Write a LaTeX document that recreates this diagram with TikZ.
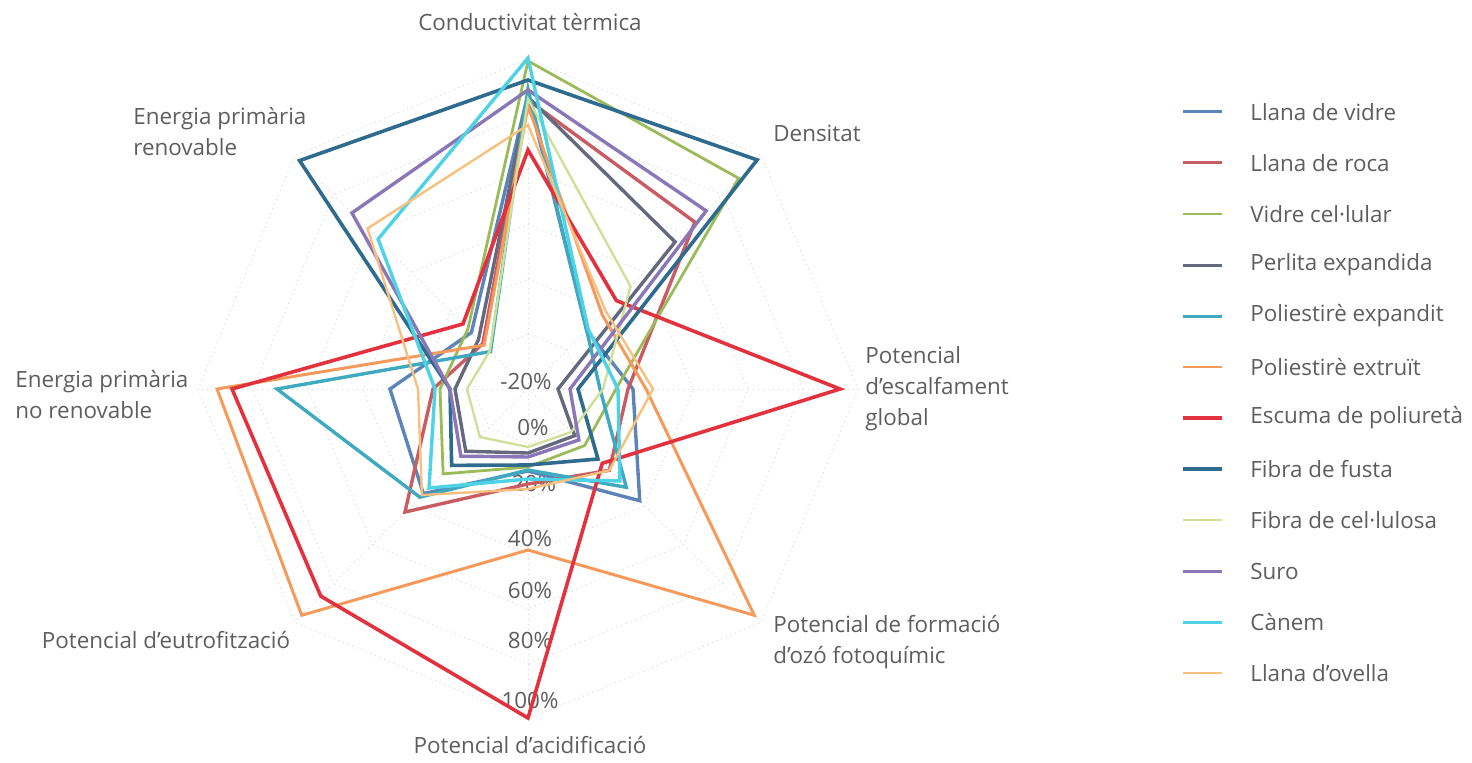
\documentclass[tikz,border=0pt]{standalone}
\usepackage{fontspec}
\setmainfont{Open Sans}
\definecolor{labelgray}{HTML}{5E5E5E}
\definecolor{gridgray}{HTML}{D6D6D6}
\definecolor{cVidre}{HTML}{5B84B8}
\definecolor{cRoca}{HTML}{C95B63}
\definecolor{cCelular}{HTML}{9BBB59}
\definecolor{cPerlita}{HTML}{65697E}
\definecolor{cEPS}{HTML}{3FA9C0}
\definecolor{cXPS}{HTML}{F59A5B}
\definecolor{cPUR}{HTML}{E3323E}
\definecolor{cFusta}{HTML}{2F6B8E}
\definecolor{cCelulosa}{HTML}{CFE09A}
\definecolor{cSuro}{HTML}{8977B8}
\definecolor{cCanem}{HTML}{4DD2E6}
\definecolor{cOvella}{HTML}{F8C07F}

% one closed polygon through the eight axes (radii in px, clockwise from the top axis)
\newcommand\plotseries[3]{%
  \foreach \r [count=\k from 0] in {#3}{%
    \pgfmathsetmacro\ang{90-45*\k}%
    \coordinate (s\k) at ({528+\r*cos(\ang)},{373+\r*sin(\ang)});%
  }%
  \draw[serie,draw=#1,line width=#2] (s0)--(s1)--(s2)--(s3)--(s4)--(s5)--(s6)--(s7)--cycle;%
}

\begin{document}
\begin{tikzpicture}[x=0.5pt,y=0.5pt,
  lbl/.style={text=labelgray,font=\fontsize{11.2}{15.5}\selectfont,inner sep=0pt},
  serie/.style={line join=miter,line cap=butt},
  gridline/.style={draw=gridgray,line width=0.5pt,dotted},
  legline/.style={line width=1.5pt}]
\useasboundingbox (0,0) rectangle (1472,762);
\coordinate (C) at (528,373);

% radial grid
\foreach \g in {55,110,...,330}{
  \draw[gridline] ({528},{373+\g})
    \foreach \a in {45,0,...,-270}{ -- ({528+\g*cos(\a)},{373+\g*sin(\a)}) } -- cycle;
}
\foreach \a in {90,45,...,-225}{
  \draw[gridline] (C) -- ({528+330*cos(\a)},{373+330*sin(\a)});
}

% scale labels
\node[lbl] (tA) at (526,381) {-20\%};
\node[lbl] (tB) at (533,335) {0\%};
\node[lbl] (tC) at (534,279) {20\%};
\node[lbl] (tD) at (530,224) {40\%};
\node[lbl] (tE) at (530,172) {60\%};
\node[lbl] (tF) at (530,122) {80\%};
\node[lbl] (tG) at (530,62) {100\%};

% data series
\plotseries{cVidre}{1.7pt}{295,83,105,158,82,148,138,80}
\plotseries{cRoca}{1.7pt}{289,236,100,115,95,174,95,64}
\plotseries{cCelular}{1.4pt}{328,298,88,80,78,120,88,85}
\plotseries{cPerlita}{1.7pt}{292,208,30,66,64,88,73,70}
\plotseries{cEPS}{1.7pt}{300,83,72,139,81,153,251,53}
\plotseries{cXPS}{1.5pt}{283,105,118,320,161,320,311,62}
\plotseries{cPUR}{1.8pt}{239,125,312,105,329,293,296,92}
\plotseries{cFusta}{1.8pt}{309,324,50,99,76,108,78,323}
\plotseries{cCelulosa}{1.2pt}{290,145,75,61,58,68,61,54}
\plotseries{cSuro}{1.7pt}{299,252,42,72,68,95,78,249}
\plotseries{cCanem}{1.7pt}{331,85,90,130,90,140,93,212}
\plotseries{cOvella}{1.2pt}{264,110,125,115,100,150,110,227}

% axis titles
\node[lbl] (ax1) at (530,740) {Conductivitat tèrmica};
\node[lbl,anchor=west] (ax2) at (773,629) {Densitat};
\node[lbl,anchor=west,align=left] (ax3) at (865,373) {Potencial\\d’escalfament\\global};
\node[lbl,anchor=west,align=left] (ax4) at (773,120) {Potencial de formació\\d’ozó fotoquímic};
\node[lbl] (ax5) at (530,17) {Potencial d’acidificació};
\node[lbl] (ax6) at (166,122) {Potencial d’eutrofització};
\node[lbl,anchor=west,align=left] (ax7) at (15,367) {Energia primària\\no renovable};
\node[lbl,anchor=west,align=left] (ax8) at (133,630) {Energia primària\\renovable};

% legend
\foreach \c/\w/\t [count=\i from 0] in {
  cVidre/1.5pt/Llana de vidre,
  cRoca/1.5pt/Llana de roca,
  cCelular/1.3pt/Vidre cel·lular,
  cPerlita/1.5pt/Perlita expandida,
  cEPS/1.5pt/Poliestirè expandit,
  cXPS/1.3pt/Poliestirè extruït,
  cPUR/1.6pt/Escuma de poliuretà,
  cFusta/1.6pt/Fibra de fusta,
  cCelulosa/1.1pt/Fibra de cel·lulosa,
  cSuro/1.5pt/Suro,
  cCanem/1.5pt/Cànem,
  cOvella/1.1pt/Llana d’ovella}{
  \coordinate (la\i) at (1183,{650-51*\i});
  \coordinate (lb\i) at (1222,{650-51*\i});
  \draw[legline,draw=\c,line width=\w] (la\i) -- (lb\i);
  \node[lbl,anchor=west] (leg\i) at (1250,{650-51*\i}) {\t};
}
\end{tikzpicture}
\end{document}
